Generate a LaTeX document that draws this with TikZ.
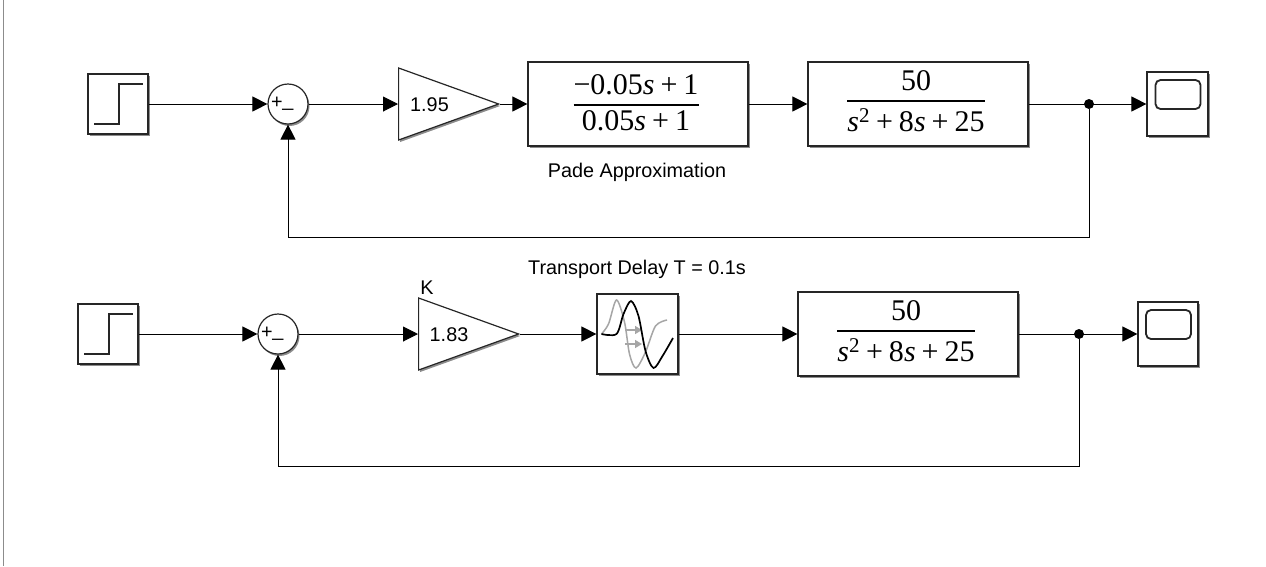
\documentclass[tikz,border=0pt]{standalone}
\usepackage{amsmath}
\usepackage{fontspec}
\setmainfont{Liberation Sans}
\newfontfamily\tffont{Liberation Serif}
\usetikzlibrary{arrows.meta,shapes.geometric,shadows}
\tikzset{
	block/.style={draw=black!85,line width=1.2pt,fill=white,inner sep=0pt,drop shadow={shadow xshift=1.5pt,shadow yshift=-2pt,opacity=0.45,fill=black}},
	gain/.style={block,isosceles triangle,isosceles triangle stretches,minimum width=72pt,minimum height=100pt,anchor=west},
	sumnode/.style={block,circle,minimum size=40pt},
	tf/.style={block,minimum width=220pt,minimum height=84pt,font=\tffont\fontsize{30}{32}\selectfont},
	conn/.style={line width=1pt,-{Triangle[length=15pt,width=15pt]}},
	dot/.style={circle,fill=black,inner sep=0pt,minimum size=10pt},
	lbl/.style={font=\fontsize{19.8}{22}\selectfont,inner sep=0pt},
	icon/.style={line width=1.6pt,black!85}
}
% #1 = baseline drop, so the fraction bar lands where it should
\newcommand{\tffrac}[3]{\hspace{-4pt}\smash{\raisebox{#1}{$\displaystyle\genfrac{}{}{1.7pt}{}{\hbox{#2}}{\hbox{#3}}$}}}
\newcommand{\plusgap}{\hspace{0.2em}+\hspace{0.2em}}
\newcommand{\plantden}{\rule{0pt}{25pt}\textit{s}\textsuperscript{2}\plusgap 8\textit{s}\plusgap 25}
\newcommand{\stepicon}[1]{\draw[icon] ([shift={(-24,20)}]#1.center)--([shift={(1,20)}]#1.center)--([shift={(1,-20)}]#1.center)--([shift={(25,-20)}]#1.center);}
\newcommand{\scopeicon}[1]{\draw[icon,line width=1.8pt,rounded corners=5pt] ([shift={(-22,-24)}]#1.center) rectangle ([shift={(23,5)}]#1.center);}
\begin{document}
\begin{tikzpicture}[x=1pt,y=-1pt]
	\useasboundingbox (0,0) rectangle (1266,566);
	\draw[black!45,line width=1pt] (3.5,0)--(3.5,566);
	% upper loop
	\node[block,minimum size=60pt] (step1) at (118,104) {};
	\stepicon{step1}
	\node[sumnode] (sum1) at (288,104) {};
	\node[lbl] (plus1) at (277,103) {+};
	\node[lbl] (minus1) at (288,108) {\_};
	\node[gain] (gain1) at (398,104) {};
	\node[lbl] (val1) at (429.5,105) {1.95};
	\node[tf] (pade) at (638,104) {\tffrac{-7pt}{\textminus 0.05\textit{s}\plusgap 1}{0.05\textit{s}\plusgap 1}};
	\node[tf] (plant1) at (918,104) {\tffrac{-3pt}{50}{\plantden}};
	\node[block,minimum width=61pt,minimum height=64pt] (scope1) at (1177.5,104) {};
	\scopeicon{scope1}
	\node[dot] (jun1) at (1089,104) {};
	\coordinate (back1) at (1089,237);
	\coordinate (back1b) at (288,237);
	\node[lbl] (padelbl) at (637,172) {Pade Approximation};
	\draw[conn] (step1)--(sum1);
	\draw[conn] (sum1)--(gain1.west);
	\draw[conn] (gain1.east)--(pade);
	\draw[conn] (pade)--(plant1);
	\draw[conn] (plant1)--(scope1);
	\draw[conn] (jun1)--(back1)--(back1b)--(sum1);
	% lower loop
	\node[block,minimum size=60pt] (step2) at (108,334) {};
	\stepicon{step2}
	\node[sumnode] (sum2) at (278,334) {};
	\node[lbl] (plus2) at (267,333) {+};
	\node[lbl] (minus2) at (278,338) {\_};
	\node[gain] (gain2) at (418,334) {};
	\node[lbl] (val2) at (449,335) {1.83};
	\node[lbl] (klbl) at (427,288) {K};
	\node[block,minimum width=81pt,minimum height=80pt] (delay) at (637.5,334) {};
	\draw[black!35,line width=1.5pt] plot[smooth] coordinates {(601.5,334) (608.5,324) (616.5,300) (624.5,322) (629.5,354) (636,368) (645.5,352) (655.5,326) (667,320)};
	\draw[black!35,line width=1.5pt,-{Triangle[length=7pt,width=8pt]}] (625,330)--(642,330);
	\draw[black!35,line width=1.5pt,-{Triangle[length=7pt,width=8pt]}] (625,344)--(642,344);
	\draw[black,line width=1.7pt] plot[smooth] coordinates {(601.5,334) (616.5,334) (623.5,314) (631,301) (638.5,316) (645.5,351) (653.5,368) (662.5,356) (673,338)};
	\node[lbl] (delaylbl) at (637,269) {Transport Delay T = 0.1s};
	\node[tf] (plant2) at (908,334) {\tffrac{-3pt}{50}{\plantden}};
	\node[block,minimum width=60pt,minimum height=64pt] (scope2) at (1168,334) {};
	\scopeicon{scope2}
	\node[dot] (jun2) at (1079,334) {};
	\coordinate (back2) at (1079,466);
	\coordinate (back2b) at (278,466);
	\draw[conn] (step2)--(sum2);
	\draw[conn] (sum2)--(gain2.west);
	\draw[conn] (gain2.east)--(delay);
	\draw[conn] (delay)--(plant2);
	\draw[conn] (plant2)--(scope2);
	\draw[conn] (jun2)--(back2)--(back2b)--(sum2);
\end{tikzpicture}
\end{document}
